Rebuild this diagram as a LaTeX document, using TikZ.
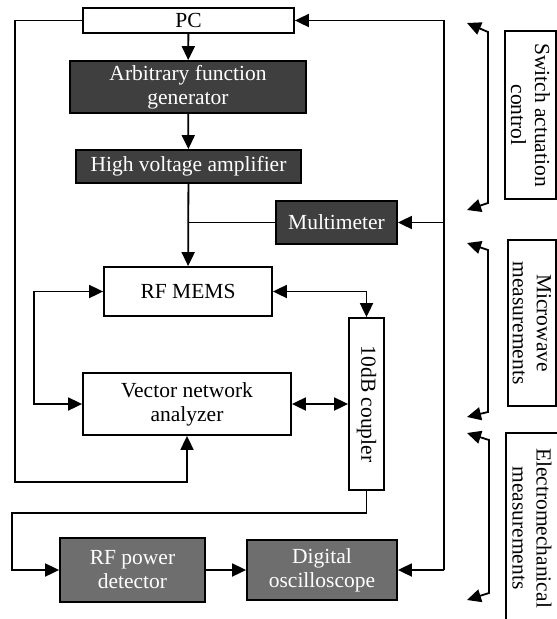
\documentclass[tikz,border=0pt]{standalone}
\usepackage{fontspec}
\setmainfont{Liberation Serif}
\usepackage{tikz}
\usetikzlibrary{arrows.meta}
\definecolor{darkbox}{HTML}{3F3F3F}
\definecolor{midbox}{HTML}{6E6E6E}
\tikzset{
  every picture/.style={line join=miter, >={Triangle[length=14pt,width=13pt]}},
  wire/.style={line width=1.8pt},
  blk/.style={draw, line width=1.8pt, inner sep=0pt, align=center, font=\fontsize{21.5}{24}\selectfont},
  whiteblk/.style={blk, fill=white},
  darkblk/.style={blk, fill=darkbox, text=white},
  midblk/.style={blk, fill=midbox, text=white},
  sidebox/.style={blk, line width=1.5pt, rotate=-90},
}

\begin{document}
\begin{tikzpicture}[x=1pt,y=-1pt]
\useasboundingbox (0,0) rectangle (557,619);
\clip (0,0) rectangle (557,619);
% blocks
\node[whiteblk,minimum width=211pt,minimum height=25pt] (pc) at (188.5,20.5) {PC};
\node[darkblk,minimum width=236pt,minimum height=52pt] (afg) at (188,87) {Arbitrary function\\generator};
\node[darkblk,minimum width=225pt,minimum height=33pt] (hva) at (188.5,166.5) {High voltage amplifier};
\node[darkblk,minimum width=121pt,minimum height=43pt] (mmeter) at (336.5,222.5) {Multimeter};
\node[whiteblk,minimum width=168pt,minimum height=49pt] (mems) at (188,291.5) {RF MEMS};
\node[whiteblk,minimum width=208pt,minimum height=62pt] (vna) at (187,404) {Vector network\\analyzer};
% rotated -90: west is on top, south on the left, east at the bottom
\node[whiteblk,rotate=-90,minimum width=172pt,minimum height=35pt] (coupler) at (366.5,404) {10dB coupler};
\node[midblk,minimum width=145pt,minimum height=64pt] (pdet) at (132.5,570) {RF power\\detector};
\node[midblk,minimum width=150pt,minimum height=60pt] (scope) at (322,570) {Digital\\oscilloscope};
% side labels
\node[sidebox,minimum width=168pt,minimum height=51pt] (lblswitch) at (530.5,115) {Switch actuation\\control};
\node[sidebox,minimum width=166pt,minimum height=48pt] (lblmicro) at (532,323) {Microwave\\measurements};
\node[sidebox,minimum width=190pt,minimum height=52pt] (lblemech) at (532,528) {Electromechanical\\measurements};
% bus coordinates
\coordinate (busleft) at (15,20.5);
\coordinate (busright) at (444,20.5);
\coordinate (join) at (188,222.5);
\coordinate (loop) at (12,513);
% signal chain
\draw[wire,->] (pc) -- (afg);
\draw[wire,->] (afg) -- (hva);
\draw[wire,->] (hva) -- (mems);
\draw[wire] (mmeter.west) -- (join);
\draw[wire,->] (pc.west) -- (busleft) -- (15,482) -| (vna.south);
\draw[wire,<->] (mems.west) -- ++(-69,0) |- (vna.west);
\draw[wire,<->] (mems.east) -| (coupler.west);
\draw[wire,<->] (vna.east) -- (coupler.south);
\draw[wire,->] (coupler.east) -- (366.5,513) -- (loop) |- (pdet.west);
\draw[wire,->] (pdet) -- (scope);
% right hand bus
\draw[wire,->] (busright |- scope) -- (busright) -- (pc.east);
\draw[wire,->] (busright |- scope) -- (scope.east);
\draw[wire,->] (busright |- mmeter) -- (mmeter.east);
% brackets
\draw[wire,<->] (467,23) -- (488,32) -- (488,203) -- (467,210);
\draw[wire,<->] (467,243) -- (488,250) -- (488,412) -- (467,417);
\draw[wire,<->] (467,433) -- (489,440) -- (489,593) -- (467,600);
\end{tikzpicture}
\end{document}
